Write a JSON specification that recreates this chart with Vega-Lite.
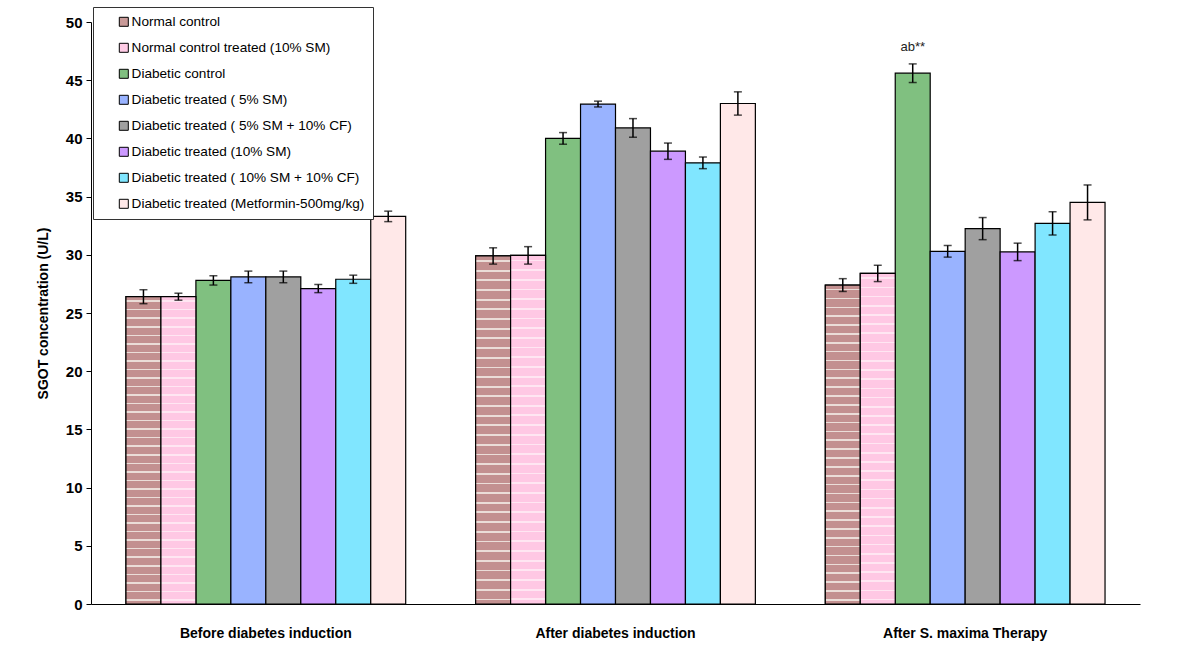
{
  "$schema": "https://vega.github.io/schema/vega-lite/v6.json",
  "width": 1049,
  "height": 582,
  "autosize": {"type": "none"},
  "padding": {"left": 91, "top": 22, "right": 50, "bottom": 56},
  "background": "white",
  "config": {
    "view": {"stroke": null},
    "font": "Liberation Sans"
  },
  "data": {
    "values": [
      {"phase": "Before diabetes induction", "group": "Normal control", "value": 26.4, "lo": 25.8, "hi": 27.0, "label": ""},
      {"phase": "Before diabetes induction", "group": "Normal control treated (10% SM)", "value": 26.4, "lo": 26.1, "hi": 26.7, "label": ""},
      {"phase": "Before diabetes induction", "group": "Diabetic control", "value": 27.8, "lo": 27.4, "hi": 28.2, "label": ""},
      {"phase": "Before diabetes induction", "group": "Diabetic treated ( 5% SM)", "value": 28.1, "lo": 27.6, "hi": 28.6, "label": ""},
      {"phase": "Before diabetes induction", "group": "Diabetic treated ( 5% SM + 10% CF)", "value": 28.1, "lo": 27.6, "hi": 28.6, "label": ""},
      {"phase": "Before diabetes induction", "group": "Diabetic treated (10% SM)", "value": 27.1, "lo": 26.75, "hi": 27.45, "label": ""},
      {"phase": "Before diabetes induction", "group": "Diabetic treated ( 10% SM + 10% CF)", "value": 27.9, "lo": 27.55, "hi": 28.25, "label": ""},
      {"phase": "Before diabetes induction", "group": "Diabetic treated (Metformin-500mg/kg)", "value": 33.3, "lo": 32.85, "hi": 33.75, "label": ""},
      {"phase": "After diabetes induction", "group": "Normal control", "value": 29.9, "lo": 29.2, "hi": 30.6, "label": ""},
      {"phase": "After diabetes induction", "group": "Normal control treated (10% SM)", "value": 29.95, "lo": 29.2, "hi": 30.7, "label": ""},
      {"phase": "After diabetes induction", "group": "Diabetic control", "value": 40.0, "lo": 39.5, "hi": 40.5, "label": ""},
      {"phase": "After diabetes induction", "group": "Diabetic treated ( 5% SM)", "value": 42.95, "lo": 42.7, "hi": 43.2, "label": ""},
      {"phase": "After diabetes induction", "group": "Diabetic treated ( 5% SM + 10% CF)", "value": 40.9, "lo": 40.1, "hi": 41.7, "label": ""},
      {"phase": "After diabetes induction", "group": "Diabetic treated (10% SM)", "value": 38.9, "lo": 38.2, "hi": 39.6, "label": ""},
      {"phase": "After diabetes induction", "group": "Diabetic treated ( 10% SM + 10% CF)", "value": 37.9, "lo": 37.4, "hi": 38.4, "label": ""},
      {"phase": "After diabetes induction", "group": "Diabetic treated (Metformin-500mg/kg)", "value": 43.0, "lo": 42.0, "hi": 44.0, "label": ""},
      {"phase": "After S. maxima Therapy", "group": "Normal control", "value": 27.4, "lo": 26.85, "hi": 27.95, "label": ""},
      {"phase": "After S. maxima Therapy", "group": "Normal control treated (10% SM)", "value": 28.4, "lo": 27.7, "hi": 29.1, "label": ""},
      {"phase": "After S. maxima Therapy", "group": "Diabetic control", "value": 45.6, "lo": 44.8, "hi": 46.4, "label": "ab**"},
      {"phase": "After S. maxima Therapy", "group": "Diabetic treated ( 5% SM)", "value": 30.3, "lo": 29.8, "hi": 30.8, "label": ""},
      {"phase": "After S. maxima Therapy", "group": "Diabetic treated ( 5% SM + 10% CF)", "value": 32.25, "lo": 31.3, "hi": 33.2, "label": ""},
      {"phase": "After S. maxima Therapy", "group": "Diabetic treated (10% SM)", "value": 30.25, "lo": 29.5, "hi": 31.0, "label": ""},
      {"phase": "After S. maxima Therapy", "group": "Diabetic treated ( 10% SM + 10% CF)", "value": 32.7, "lo": 31.7, "hi": 33.7, "label": ""},
      {"phase": "After S. maxima Therapy", "group": "Diabetic treated (Metformin-500mg/kg)", "value": 34.5, "lo": 33.0, "hi": 36.0, "label": ""}
    ]
  },
  "encoding": {
    "x": {
      "field": "phase",
      "type": "nominal",
      "sort": ["Before diabetes induction", "After diabetes induction", "After S. maxima Therapy"],
      "scale": {"paddingInner": 0, "paddingOuter": 0},
      "axis": {
        "title": null,
        "labelAngle": 0,
        "ticks": false,
        "labelPadding": 22,
        "labelFontSize": 14,
        "labelFontWeight": "bold",
        "labelColor": "black",
        "domainColor": "black",
        "domainWidth": 1
      }
    },
    "xOffset": {
      "field": "group",
      "type": "nominal",
      "sort": ["Normal control", "Normal control treated (10% SM)", "Diabetic control", "Diabetic treated ( 5% SM)", "Diabetic treated ( 5% SM + 10% CF)", "Diabetic treated (10% SM)", "Diabetic treated ( 10% SM + 10% CF)", "Diabetic treated (Metformin-500mg/kg)"],
      "scale": {"paddingInner": 0, "paddingOuter": 1}
    }
  },
  "layer": [
    {
      "mark": {"type": "bar", "stroke": "black", "strokeWidth": 1.2, "opacity": 1},
      "encoding": {
        "y": {
          "field": "value",
          "type": "quantitative",
          "scale": {"domain": [0, 50], "nice": false},
          "axis": {
            "title": "SGOT concentration (U/L)",
            "values": [0, 5, 10, 15, 20, 25, 30, 35, 40, 45, 50],
            "grid": false,
            "tickSize": 5,
            "tickColor": "black",
            "domainColor": "black",
            "labelFontSize": 15,
            "labelFontWeight": "bold",
            "labelColor": "black",
            "labelPadding": 4,
            "titleFontSize": 14,
            "titleFontWeight": "bold",
            "titleColor": "black",
            "titlePadding": 15
          }
        },
        "color": {
          "field": "group",
          "type": "nominal",
          "sort": ["Normal control", "Normal control treated (10% SM)", "Diabetic control", "Diabetic treated ( 5% SM)", "Diabetic treated ( 5% SM + 10% CF)", "Diabetic treated (10% SM)", "Diabetic treated ( 10% SM + 10% CF)", "Diabetic treated (Metformin-500mg/kg)"],
          "scale": {
            "domain": ["Normal control", "Normal control treated (10% SM)", "Diabetic control", "Diabetic treated ( 5% SM)", "Diabetic treated ( 5% SM + 10% CF)", "Diabetic treated (10% SM)", "Diabetic treated ( 10% SM + 10% CF)", "Diabetic treated (Metformin-500mg/kg)"],
            "range": ["#C99A98", "#FFCCE6", "#80C080", "#99B3FF", "#A0A0A0", "#CC99FF", "#80E6FF", "#FFE8E8"]
          },
          "legend": {
            "title": null,
            "orient": "none",
            "legendX": 2,
            "legendY": -15,
            "padding": 8,
            "symbolOffset": 16,
            "symbolType": "square",
            "symbolSize": 81,
            "symbolStrokeColor": "black",
            "symbolStrokeWidth": 1,
            "labelFont": "Liberation Sans",
            "labelFontSize": 13.6,
            "labelColor": "black",
            "labelOffset": 1,
            "labelLimit": 400,
            "rowPadding": 11,
            "fillColor": "white",
            "strokeColor": "#333333"
          }
        }
      }
    },
    {
      "transform": [{"filter": "datum.group === 'Normal control'"}],
      "mark": {
        "type": "bar", "stroke": "black", "strokeWidth": 1.2,
        "fill": {
          "gradient": "linear", "x1": 0, "y1": 0, "x2": 0, "y2": 1,
          "stops": [
            {"offset": 0, "color": "#C39090"},
            {"offset": 0.012, "color": "#C39090"}, {"offset": 0.012, "color": "#EBDDD8"}, {"offset": 0.017, "color": "#EBDDD8"}, {"offset": 0.017, "color": "#C39090"},
            {"offset": 0.0398, "color": "#C39090"}, {"offset": 0.0398, "color": "#EBDDD8"}, {"offset": 0.0448, "color": "#EBDDD8"}, {"offset": 0.0448, "color": "#C39090"},
            {"offset": 0.0676, "color": "#C39090"}, {"offset": 0.0676, "color": "#EBDDD8"}, {"offset": 0.0726, "color": "#EBDDD8"}, {"offset": 0.0726, "color": "#C39090"},
            {"offset": 0.0953, "color": "#C39090"}, {"offset": 0.0953, "color": "#EBDDD8"}, {"offset": 0.1003, "color": "#EBDDD8"}, {"offset": 0.1003, "color": "#C39090"},
            {"offset": 0.1231, "color": "#C39090"}, {"offset": 0.1231, "color": "#EBDDD8"}, {"offset": 0.1281, "color": "#EBDDD8"}, {"offset": 0.1281, "color": "#C39090"},
            {"offset": 0.1509, "color": "#C39090"}, {"offset": 0.1509, "color": "#EBDDD8"}, {"offset": 0.1559, "color": "#EBDDD8"}, {"offset": 0.1559, "color": "#C39090"},
            {"offset": 0.1787, "color": "#C39090"}, {"offset": 0.1787, "color": "#EBDDD8"}, {"offset": 0.1837, "color": "#EBDDD8"}, {"offset": 0.1837, "color": "#C39090"},
            {"offset": 0.2064, "color": "#C39090"}, {"offset": 0.2064, "color": "#EBDDD8"}, {"offset": 0.2114, "color": "#EBDDD8"}, {"offset": 0.2114, "color": "#C39090"},
            {"offset": 0.2342, "color": "#C39090"}, {"offset": 0.2342, "color": "#EBDDD8"}, {"offset": 0.2392, "color": "#EBDDD8"}, {"offset": 0.2392, "color": "#C39090"},
            {"offset": 0.262, "color": "#C39090"}, {"offset": 0.262, "color": "#EBDDD8"}, {"offset": 0.267, "color": "#EBDDD8"}, {"offset": 0.267, "color": "#C39090"},
            {"offset": 0.2898, "color": "#C39090"}, {"offset": 0.2898, "color": "#EBDDD8"}, {"offset": 0.2948, "color": "#EBDDD8"}, {"offset": 0.2948, "color": "#C39090"},
            {"offset": 0.3176, "color": "#C39090"}, {"offset": 0.3176, "color": "#EBDDD8"}, {"offset": 0.3226, "color": "#EBDDD8"}, {"offset": 0.3226, "color": "#C39090"},
            {"offset": 0.3453, "color": "#C39090"}, {"offset": 0.3453, "color": "#EBDDD8"}, {"offset": 0.3503, "color": "#EBDDD8"}, {"offset": 0.3503, "color": "#C39090"},
            {"offset": 0.3731, "color": "#C39090"}, {"offset": 0.3731, "color": "#EBDDD8"}, {"offset": 0.3781, "color": "#EBDDD8"}, {"offset": 0.3781, "color": "#C39090"},
            {"offset": 0.4009, "color": "#C39090"}, {"offset": 0.4009, "color": "#EBDDD8"}, {"offset": 0.4059, "color": "#EBDDD8"}, {"offset": 0.4059, "color": "#C39090"},
            {"offset": 0.4287, "color": "#C39090"}, {"offset": 0.4287, "color": "#EBDDD8"}, {"offset": 0.4337, "color": "#EBDDD8"}, {"offset": 0.4337, "color": "#C39090"},
            {"offset": 0.4564, "color": "#C39090"}, {"offset": 0.4564, "color": "#EBDDD8"}, {"offset": 0.4614, "color": "#EBDDD8"}, {"offset": 0.4614, "color": "#C39090"},
            {"offset": 0.4842, "color": "#C39090"}, {"offset": 0.4842, "color": "#EBDDD8"}, {"offset": 0.4892, "color": "#EBDDD8"}, {"offset": 0.4892, "color": "#C39090"},
            {"offset": 0.512, "color": "#C39090"}, {"offset": 0.512, "color": "#EBDDD8"}, {"offset": 0.517, "color": "#EBDDD8"}, {"offset": 0.517, "color": "#C39090"},
            {"offset": 0.5398, "color": "#C39090"}, {"offset": 0.5398, "color": "#EBDDD8"}, {"offset": 0.5448, "color": "#EBDDD8"}, {"offset": 0.5448, "color": "#C39090"},
            {"offset": 0.5676, "color": "#C39090"}, {"offset": 0.5676, "color": "#EBDDD8"}, {"offset": 0.5726, "color": "#EBDDD8"}, {"offset": 0.5726, "color": "#C39090"},
            {"offset": 0.5953, "color": "#C39090"}, {"offset": 0.5953, "color": "#EBDDD8"}, {"offset": 0.6003, "color": "#EBDDD8"}, {"offset": 0.6003, "color": "#C39090"},
            {"offset": 0.6231, "color": "#C39090"}, {"offset": 0.6231, "color": "#EBDDD8"}, {"offset": 0.6281, "color": "#EBDDD8"}, {"offset": 0.6281, "color": "#C39090"},
            {"offset": 0.6509, "color": "#C39090"}, {"offset": 0.6509, "color": "#EBDDD8"}, {"offset": 0.6559, "color": "#EBDDD8"}, {"offset": 0.6559, "color": "#C39090"},
            {"offset": 0.6787, "color": "#C39090"}, {"offset": 0.6787, "color": "#EBDDD8"}, {"offset": 0.6837, "color": "#EBDDD8"}, {"offset": 0.6837, "color": "#C39090"},
            {"offset": 0.7064, "color": "#C39090"}, {"offset": 0.7064, "color": "#EBDDD8"}, {"offset": 0.7114, "color": "#EBDDD8"}, {"offset": 0.7114, "color": "#C39090"},
            {"offset": 0.7342, "color": "#C39090"}, {"offset": 0.7342, "color": "#EBDDD8"}, {"offset": 0.7392, "color": "#EBDDD8"}, {"offset": 0.7392, "color": "#C39090"},
            {"offset": 0.762, "color": "#C39090"}, {"offset": 0.762, "color": "#EBDDD8"}, {"offset": 0.767, "color": "#EBDDD8"}, {"offset": 0.767, "color": "#C39090"},
            {"offset": 0.7898, "color": "#C39090"}, {"offset": 0.7898, "color": "#EBDDD8"}, {"offset": 0.7948, "color": "#EBDDD8"}, {"offset": 0.7948, "color": "#C39090"},
            {"offset": 0.8176, "color": "#C39090"}, {"offset": 0.8176, "color": "#EBDDD8"}, {"offset": 0.8226, "color": "#EBDDD8"}, {"offset": 0.8226, "color": "#C39090"},
            {"offset": 0.8453, "color": "#C39090"}, {"offset": 0.8453, "color": "#EBDDD8"}, {"offset": 0.8503, "color": "#EBDDD8"}, {"offset": 0.8503, "color": "#C39090"},
            {"offset": 0.8731, "color": "#C39090"}, {"offset": 0.8731, "color": "#EBDDD8"}, {"offset": 0.8781, "color": "#EBDDD8"}, {"offset": 0.8781, "color": "#C39090"},
            {"offset": 0.9009, "color": "#C39090"}, {"offset": 0.9009, "color": "#EBDDD8"}, {"offset": 0.9059, "color": "#EBDDD8"}, {"offset": 0.9059, "color": "#C39090"},
            {"offset": 0.9287, "color": "#C39090"}, {"offset": 0.9287, "color": "#EBDDD8"}, {"offset": 0.9337, "color": "#EBDDD8"}, {"offset": 0.9337, "color": "#C39090"},
            {"offset": 0.9564, "color": "#C39090"}, {"offset": 0.9564, "color": "#EBDDD8"}, {"offset": 0.9614, "color": "#EBDDD8"}, {"offset": 0.9614, "color": "#C39090"},
            {"offset": 0.9842, "color": "#C39090"}, {"offset": 0.9842, "color": "#EBDDD8"}, {"offset": 0.9892, "color": "#EBDDD8"}, {"offset": 0.9892, "color": "#C39090"},
            {"offset": 1, "color": "#C39090"}
          ]
        }
      },
      "encoding": {
        "y": {"field": "value", "type": "quantitative"}
      }
    },
    {
      "transform": [{"filter": "datum.group === 'Normal control treated (10% SM)'"}],
      "mark": {
        "type": "bar", "stroke": "black", "strokeWidth": 1.2,
        "fill": {
          "gradient": "linear", "x1": 0, "y1": 0, "x2": 0, "y2": 1,
          "stops": [
            {"offset": 0, "color": "#FFC8E4"},
            {"offset": 0.012, "color": "#FFC8E4"}, {"offset": 0.012, "color": "#FFE6F2"}, {"offset": 0.017, "color": "#FFE6F2"}, {"offset": 0.017, "color": "#FFC8E4"},
            {"offset": 0.0398, "color": "#FFC8E4"}, {"offset": 0.0398, "color": "#FFE6F2"}, {"offset": 0.0448, "color": "#FFE6F2"}, {"offset": 0.0448, "color": "#FFC8E4"},
            {"offset": 0.0676, "color": "#FFC8E4"}, {"offset": 0.0676, "color": "#FFE6F2"}, {"offset": 0.0726, "color": "#FFE6F2"}, {"offset": 0.0726, "color": "#FFC8E4"},
            {"offset": 0.0953, "color": "#FFC8E4"}, {"offset": 0.0953, "color": "#FFE6F2"}, {"offset": 0.1003, "color": "#FFE6F2"}, {"offset": 0.1003, "color": "#FFC8E4"},
            {"offset": 0.1231, "color": "#FFC8E4"}, {"offset": 0.1231, "color": "#FFE6F2"}, {"offset": 0.1281, "color": "#FFE6F2"}, {"offset": 0.1281, "color": "#FFC8E4"},
            {"offset": 0.1509, "color": "#FFC8E4"}, {"offset": 0.1509, "color": "#FFE6F2"}, {"offset": 0.1559, "color": "#FFE6F2"}, {"offset": 0.1559, "color": "#FFC8E4"},
            {"offset": 0.1787, "color": "#FFC8E4"}, {"offset": 0.1787, "color": "#FFE6F2"}, {"offset": 0.1837, "color": "#FFE6F2"}, {"offset": 0.1837, "color": "#FFC8E4"},
            {"offset": 0.2064, "color": "#FFC8E4"}, {"offset": 0.2064, "color": "#FFE6F2"}, {"offset": 0.2114, "color": "#FFE6F2"}, {"offset": 0.2114, "color": "#FFC8E4"},
            {"offset": 0.2342, "color": "#FFC8E4"}, {"offset": 0.2342, "color": "#FFE6F2"}, {"offset": 0.2392, "color": "#FFE6F2"}, {"offset": 0.2392, "color": "#FFC8E4"},
            {"offset": 0.262, "color": "#FFC8E4"}, {"offset": 0.262, "color": "#FFE6F2"}, {"offset": 0.267, "color": "#FFE6F2"}, {"offset": 0.267, "color": "#FFC8E4"},
            {"offset": 0.2898, "color": "#FFC8E4"}, {"offset": 0.2898, "color": "#FFE6F2"}, {"offset": 0.2948, "color": "#FFE6F2"}, {"offset": 0.2948, "color": "#FFC8E4"},
            {"offset": 0.3176, "color": "#FFC8E4"}, {"offset": 0.3176, "color": "#FFE6F2"}, {"offset": 0.3226, "color": "#FFE6F2"}, {"offset": 0.3226, "color": "#FFC8E4"},
            {"offset": 0.3453, "color": "#FFC8E4"}, {"offset": 0.3453, "color": "#FFE6F2"}, {"offset": 0.3503, "color": "#FFE6F2"}, {"offset": 0.3503, "color": "#FFC8E4"},
            {"offset": 0.3731, "color": "#FFC8E4"}, {"offset": 0.3731, "color": "#FFE6F2"}, {"offset": 0.3781, "color": "#FFE6F2"}, {"offset": 0.3781, "color": "#FFC8E4"},
            {"offset": 0.4009, "color": "#FFC8E4"}, {"offset": 0.4009, "color": "#FFE6F2"}, {"offset": 0.4059, "color": "#FFE6F2"}, {"offset": 0.4059, "color": "#FFC8E4"},
            {"offset": 0.4287, "color": "#FFC8E4"}, {"offset": 0.4287, "color": "#FFE6F2"}, {"offset": 0.4337, "color": "#FFE6F2"}, {"offset": 0.4337, "color": "#FFC8E4"},
            {"offset": 0.4564, "color": "#FFC8E4"}, {"offset": 0.4564, "color": "#FFE6F2"}, {"offset": 0.4614, "color": "#FFE6F2"}, {"offset": 0.4614, "color": "#FFC8E4"},
            {"offset": 0.4842, "color": "#FFC8E4"}, {"offset": 0.4842, "color": "#FFE6F2"}, {"offset": 0.4892, "color": "#FFE6F2"}, {"offset": 0.4892, "color": "#FFC8E4"},
            {"offset": 0.512, "color": "#FFC8E4"}, {"offset": 0.512, "color": "#FFE6F2"}, {"offset": 0.517, "color": "#FFE6F2"}, {"offset": 0.517, "color": "#FFC8E4"},
            {"offset": 0.5398, "color": "#FFC8E4"}, {"offset": 0.5398, "color": "#FFE6F2"}, {"offset": 0.5448, "color": "#FFE6F2"}, {"offset": 0.5448, "color": "#FFC8E4"},
            {"offset": 0.5676, "color": "#FFC8E4"}, {"offset": 0.5676, "color": "#FFE6F2"}, {"offset": 0.5726, "color": "#FFE6F2"}, {"offset": 0.5726, "color": "#FFC8E4"},
            {"offset": 0.5953, "color": "#FFC8E4"}, {"offset": 0.5953, "color": "#FFE6F2"}, {"offset": 0.6003, "color": "#FFE6F2"}, {"offset": 0.6003, "color": "#FFC8E4"},
            {"offset": 0.6231, "color": "#FFC8E4"}, {"offset": 0.6231, "color": "#FFE6F2"}, {"offset": 0.6281, "color": "#FFE6F2"}, {"offset": 0.6281, "color": "#FFC8E4"},
            {"offset": 0.6509, "color": "#FFC8E4"}, {"offset": 0.6509, "color": "#FFE6F2"}, {"offset": 0.6559, "color": "#FFE6F2"}, {"offset": 0.6559, "color": "#FFC8E4"},
            {"offset": 0.6787, "color": "#FFC8E4"}, {"offset": 0.6787, "color": "#FFE6F2"}, {"offset": 0.6837, "color": "#FFE6F2"}, {"offset": 0.6837, "color": "#FFC8E4"},
            {"offset": 0.7064, "color": "#FFC8E4"}, {"offset": 0.7064, "color": "#FFE6F2"}, {"offset": 0.7114, "color": "#FFE6F2"}, {"offset": 0.7114, "color": "#FFC8E4"},
            {"offset": 0.7342, "color": "#FFC8E4"}, {"offset": 0.7342, "color": "#FFE6F2"}, {"offset": 0.7392, "color": "#FFE6F2"}, {"offset": 0.7392, "color": "#FFC8E4"},
            {"offset": 0.762, "color": "#FFC8E4"}, {"offset": 0.762, "color": "#FFE6F2"}, {"offset": 0.767, "color": "#FFE6F2"}, {"offset": 0.767, "color": "#FFC8E4"},
            {"offset": 0.7898, "color": "#FFC8E4"}, {"offset": 0.7898, "color": "#FFE6F2"}, {"offset": 0.7948, "color": "#FFE6F2"}, {"offset": 0.7948, "color": "#FFC8E4"},
            {"offset": 0.8176, "color": "#FFC8E4"}, {"offset": 0.8176, "color": "#FFE6F2"}, {"offset": 0.8226, "color": "#FFE6F2"}, {"offset": 0.8226, "color": "#FFC8E4"},
            {"offset": 0.8453, "color": "#FFC8E4"}, {"offset": 0.8453, "color": "#FFE6F2"}, {"offset": 0.8503, "color": "#FFE6F2"}, {"offset": 0.8503, "color": "#FFC8E4"},
            {"offset": 0.8731, "color": "#FFC8E4"}, {"offset": 0.8731, "color": "#FFE6F2"}, {"offset": 0.8781, "color": "#FFE6F2"}, {"offset": 0.8781, "color": "#FFC8E4"},
            {"offset": 0.9009, "color": "#FFC8E4"}, {"offset": 0.9009, "color": "#FFE6F2"}, {"offset": 0.9059, "color": "#FFE6F2"}, {"offset": 0.9059, "color": "#FFC8E4"},
            {"offset": 0.9287, "color": "#FFC8E4"}, {"offset": 0.9287, "color": "#FFE6F2"}, {"offset": 0.9337, "color": "#FFE6F2"}, {"offset": 0.9337, "color": "#FFC8E4"},
            {"offset": 0.9564, "color": "#FFC8E4"}, {"offset": 0.9564, "color": "#FFE6F2"}, {"offset": 0.9614, "color": "#FFE6F2"}, {"offset": 0.9614, "color": "#FFC8E4"},
            {"offset": 0.9842, "color": "#FFC8E4"}, {"offset": 0.9842, "color": "#FFE6F2"}, {"offset": 0.9892, "color": "#FFE6F2"}, {"offset": 0.9892, "color": "#FFC8E4"},
            {"offset": 1, "color": "#FFC8E4"}
          ]
        }
      },
      "encoding": {
        "y": {"field": "value", "type": "quantitative"}
      }
    },
    {
      "mark": {"type": "rule", "color": "black", "strokeWidth": 1.5},
      "encoding": {
        "y": {"field": "lo", "type": "quantitative"},
        "y2": {"field": "hi"}
      }
    },
    {
      "mark": {"type": "tick", "color": "black", "thickness": 1.5, "size": 8, "orient": "horizontal"},
      "encoding": {
        "y": {"field": "lo", "type": "quantitative"}
      }
    },
    {
      "mark": {"type": "tick", "color": "black", "thickness": 1.5, "size": 8, "orient": "horizontal"},
      "encoding": {
        "y": {"field": "hi", "type": "quantitative"}
      }
    },
    {
      "mark": {"type": "text", "dy": -26, "fontSize": 13, "color": "#222222", "baseline": "middle"},
      "encoding": {
        "y": {"field": "value", "type": "quantitative"},
        "text": {"field": "label"}
      }
    }
  ]
}
